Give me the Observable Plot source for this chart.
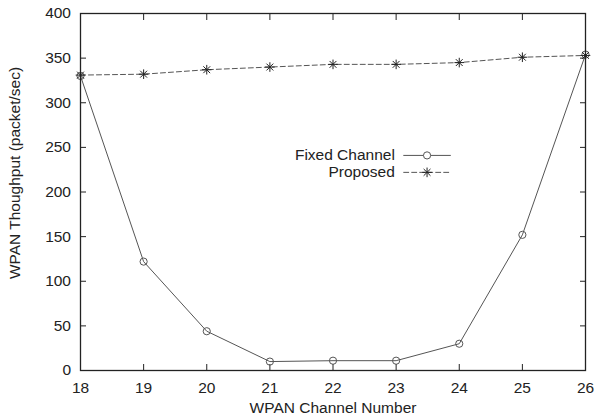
<!DOCTYPE html>
<html>
<head>
<meta charset="utf-8">
<script src="https://cdn.jsdelivr.net/npm/d3@7"></script>
<script src="https://cdn.jsdelivr.net/npm/@observablehq/plot@0.6"></script>
<style>
  html, body { margin: 0; padding: 0; background: #fff; }
  #chart svg { display: block; }
</style>
</head>
<body>
<div id="chart"></div>
<script>
const channels = [18, 19, 20, 21, 22, 23, 24, 25, 26];
const fixedChannel = [330, 122, 44, 10, 11, 11, 30, 152, 354];
const proposed = [331, 332, 337, 340, 343, 343, 345, 351, 353];
const seriesNames = ["Fixed Channel", "Proposed"];
const xTicks = [18, 19, 20, 21, 22, 23, 24, 25, 26];
const yTicks = [0, 50, 100, 150, 200, 250, 300, 350, 400];

const fixedData = channels.map((c, i) => ({x: c, y: fixedChannel[i]}));
const propData = channels.map((c, i) => ({x: c, y: proposed[i]}));

const font = "Liberation Sans, Arial, Helvetica, sans-serif";
const fs = 15.5;
const ink = "#222";
const lineCol = "#555";

// legend placement (data units)
const legX = 22.98, legY1 = 241, legY2 = 222;
const legA = 23.12, legB = 23.86, legM = 23.49;
const legFixed = [{x: legA, y: legY1}, {x: legB, y: legY1}];
const legProp = [{x: legA, y: legY2}, {x: legB, y: legY2}];

const plot = Plot.plot({
  width: 595,
  height: 420,
  marginLeft: 80,
  marginRight: 10,
  marginTop: 13,
  marginBottom: 50,
  style: {fontFamily: font, fontSize: fs + "px", color: ink, background: "#fff"},
  x: {domain: [18, 26]},
  y: {domain: [0, 400]},
  marks: [
    Plot.axisX(xTicks, {anchor: "bottom", tickSize: -6, tickPadding: 17, fontSize: fs, stroke: ink, color: ink, label: null}),
    Plot.axisX(xTicks, {anchor: "top", tickSize: -6, text: null, stroke: ink, label: null}),
    Plot.axisY(yTicks, {anchor: "left", tickSize: -6, tickPadding: 15.5, fontSize: fs, stroke: ink, label: null}),
    Plot.axisY(yTicks, {anchor: "right", tickSize: -6, text: null, stroke: ink, label: null}),
    Plot.text(["WPAN Channel Number"], {frameAnchor: "bottom", dy: 37.5, fontSize: fs, fill: ink, lineAnchor: "middle"}),
    Plot.text(["WPAN Thoughput (packet/sec)"], {frameAnchor: "left", textAnchor: "middle", dx: -65, dy: -19, rotate: -90, fontSize: fs, fill: ink}),
    Plot.line(fixedData, {x: "x", y: "y", stroke: lineCol, strokeWidth: 1}),
    Plot.dot(fixedData, {x: "x", y: "y", r: 3.6, stroke: lineCol, fill: "none", strokeWidth: 1}),
    Plot.line(propData, {x: "x", y: "y", stroke: lineCol, strokeWidth: 1, strokeDasharray: "5,3"}),
    Plot.dot(propData, {x: "x", y: "y", symbol: "plus", r: 3.2, stroke: "#222", strokeWidth: 1}),
    Plot.dot(propData, {x: "x", y: "y", symbol: "times", r: 3.2, stroke: "#222", strokeWidth: 1}),
    // legend
    Plot.text([seriesNames[0]], {x: () => legX, y: () => legY1, textAnchor: "end", fontSize: fs, fill: ink}),
    Plot.text([seriesNames[1]], {x: () => legX, y: () => legY2, textAnchor: "end", fontSize: fs, fill: ink}),
    Plot.line(legFixed, {x: "x", y: "y", stroke: lineCol, strokeWidth: 1}),
    Plot.dot([{x: legM, y: legY1}], {x: "x", y: "y", r: 3.6, stroke: lineCol, fill: "white", strokeWidth: 1}),
    Plot.line(legProp, {x: "x", y: "y", stroke: lineCol, strokeWidth: 1, strokeDasharray: "5,3"}),
    Plot.dot([{x: legM, y: legY2}], {x: "x", y: "y", symbol: "plus", r: 3.2, stroke: "#222", strokeWidth: 1}),
    Plot.dot([{x: legM, y: legY2}], {x: "x", y: "y", symbol: "times", r: 3.2, stroke: "#222", strokeWidth: 1}),
    Plot.frame({stroke: ink, strokeWidth: 1.3})
  ]
});
document.getElementById("chart").appendChild(plot);
</script>
</body>
</html>
